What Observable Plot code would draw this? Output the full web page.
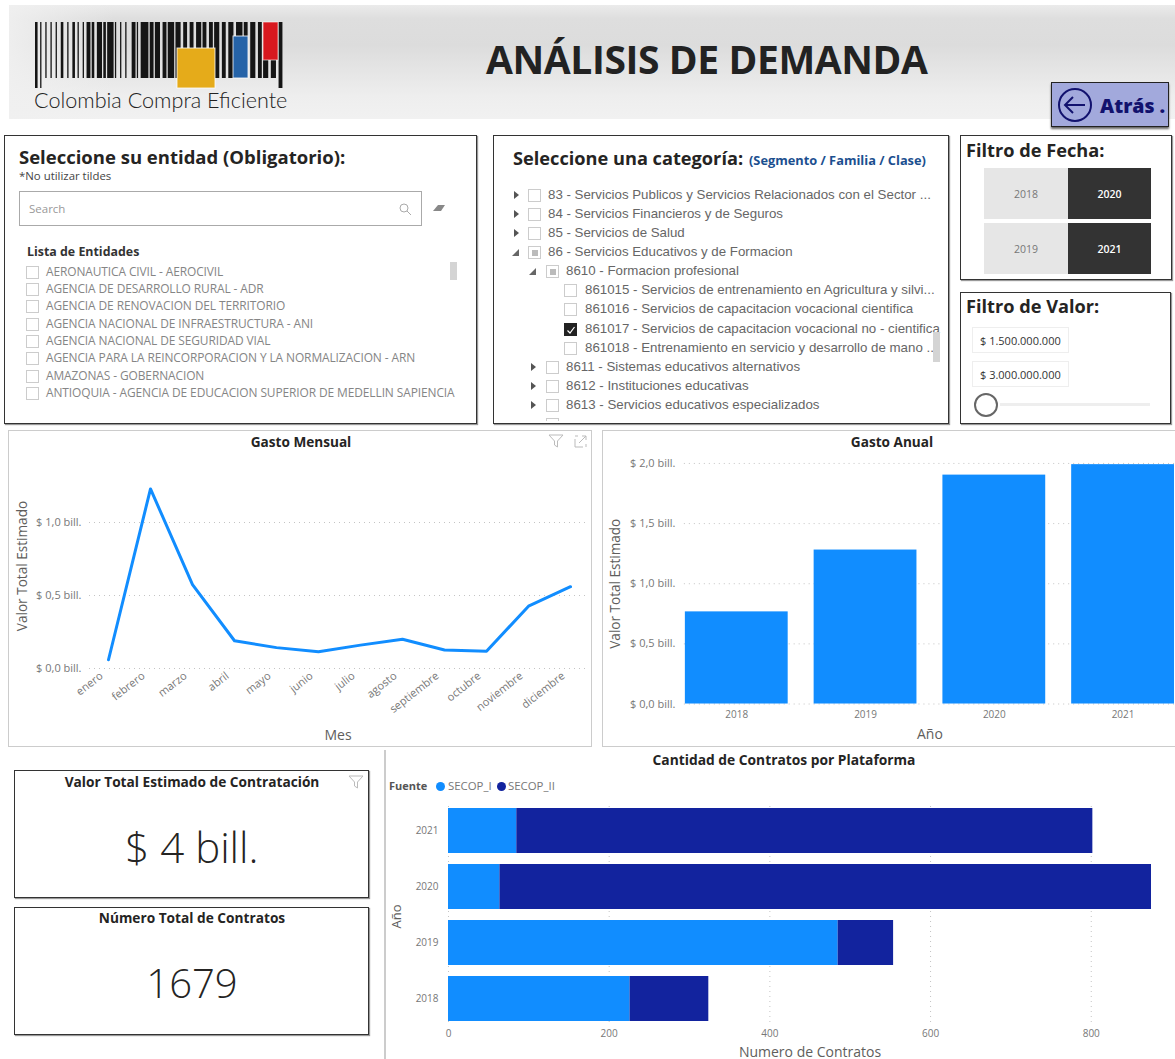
<!DOCTYPE html>
<html lang="es">
<head>
<meta charset="utf-8">
<script src="https://cdn.jsdelivr.net/npm/d3@7"></script>
<script src="https://cdn.jsdelivr.net/npm/@observablehq/plot@0.6"></script>
<style>
html,body{margin:0;padding:0;background:#fff;width:1175px;height:1059px;overflow:hidden;font-family:"Open Sans",sans-serif;color:#252423}
.a{position:absolute;box-sizing:border-box}
.t{position:absolute;white-space:nowrap;line-height:1}
.panel{position:absolute;box-sizing:border-box;background:#fff;border:1.5px solid #333;box-shadow:1px 1px 1px #999;overflow:hidden}
.frame{position:absolute;box-sizing:border-box;border:1.5px solid #ccc;background:#fff}
.cb{position:absolute;box-sizing:border-box;width:13px;height:13px;border:1px solid #ccc;background:#fff}
.row{position:absolute;white-space:nowrap;line-height:1;font-family:"Liberation Sans",Arial,sans-serif;font-size:13.3px;color:#666}
.ent{position:absolute;white-space:nowrap;line-height:1;font-size:11.95px;color:#858585;letter-spacing:-.1px}
.arrow{position:absolute;width:0;height:0}
.arrow.closed{border-left:5px solid #555;border-top:4px solid transparent;border-bottom:4px solid transparent}
.arrow.open{border-left:7px solid transparent;border-bottom:7px solid #666}
svg{overflow:visible}
.plot{position:absolute}
.btn{position:absolute;display:flex;align-items:center;justify-content:center;font-size:10.5px}
.val{position:absolute;box-sizing:border-box;border:1px solid #eee;font-size:11px;color:#333;display:flex;align-items:center;padding-left:7px}
</style>
</head>
<body>
<div id="root"></div>
<script>
// ---- datos ----
const meses = ["enero","febrero","marzo","abril","mayo","junio","julio","agosto","septiembre","octubre","noviembre","diciembre"];
const gastoMensual = [0.06,1.23,0.575,0.19,0.143,0.114,0.16,0.2,0.127,0.118,0.427,0.56];
const ticksMensual = [0,0.5,1];

const anios = ["2018","2019","2020","2021"];
const gastoAnual = [0.766,1.28,1.903,1.99];
const ticksAnual = [0,0.5,1,1.5,2];

const fuentes = ["SECOP_I","SECOP_II"];
const contratosSecopI = [226,485,64,85];
const contratosSecopII = [98,69,811,717];
const ticksContratos = [0,200,400,600,800];

const entidades = ["AERONAUTICA CIVIL - AEROCIVIL","AGENCIA DE DESARROLLO RURAL - ADR","AGENCIA DE RENOVACION DEL TERRITORIO","AGENCIA NACIONAL DE INFRAESTRUCTURA - ANI","AGENCIA NACIONAL DE SEGURIDAD VIAL","AGENCIA PARA LA REINCORPORACION Y LA NORMALIZACION - ARN","AMAZONAS - GOBERNACION","ANTIOQUIA - AGENCIA DE EDUCACION SUPERIOR DE MEDELLIN SAPIENCIA"];
const arbol = [
 ["83 - Servicios Publicos y Servicios Relacionados con el Sector ...",0,"closed",""],
 ["84 - Servicios Financieros y de Seguros",0,"closed",""],
 ["85 - Servicios de Salud",0,"closed",""],
 ["86 - Servicios Educativos y de Formacion",0,"open","partial"],
 ["8610 - Formacion profesional",1,"open","partial"],
 ["861015 - Servicios de entrenamiento en Agricultura y silvi...",2,"",""],
 ["861016 - Servicios de capacitacion vocacional cientifica",2,"",""],
 ["861017 - Servicios de capacitacion vocacional no - cientifica",2,"","checked"],
 ["861018 - Entrenamiento en servicio y desarrollo de mano ...",2,"",""],
 ["8611 - Sistemas educativos alternativos",1,"closed",""],
 ["8612 - Instituciones educativas",1,"closed",""],
 ["8613 - Servicios educativos especializados",1,"closed",""]
];
const filasArbol = [195,214,233,252,271,290,309,329,348,367,386,405];
const filasEntidades = [272,289,306,324,341,358,376,393];
// anchos alternos barra / hueco del código de barras del logotipo
const patronBarras = "2 2 1 3 1 3 1 3 1 3 2 3 1 3 2 2 1 3 1 2 3 1 2 2 4 1 2 1 5 1 1 3 1 3 1 4 3 1 1 2 6 1 3 1 4 2 3 1 5 1 4 2 3 2 3 2 4 1 3 2 3 1 4 2 3 2 4 2 5 1 3 2 4 2 3 1 4 2 4 2 3 2";
const barrasLargas = [0,2,35,37,80];

// ---- estilos comunes ----
const AZUL = "#118DFF", NAVY = "#12239E", GRIS = "#777", TITULO = "#605E5C";
const FONT = "'Open Sans',sans-serif";
const bill = d => "$ " + d.toFixed(1).replace(".",",") + " bill.";
const root = document.getElementById("root");
function el(html){const d=document.createElement("div");d.innerHTML=html;const n=d.firstElementChild;root.appendChild(n);return n;}
function txt(x,y,s,style){return el(`<div class="t" style="left:${x}px;top:${y}px;${style||""}">${s}</div>`);}
function place(node,left,top){const w=document.createElement("div");w.className="plot";w.style.left=left+"px";w.style.top=top+"px";w.appendChild(node);root.appendChild(w);}

// ---- encabezado ----
el(`<div class="a" style="left:9px;top:5px;width:1166px;height:114px;background:linear-gradient(90deg,rgba(240,240,240,.9) 0,rgba(240,240,240,0) 9%),linear-gradient(180deg,#ebebeb 0,#dedede 12%,#dcdcdc 35%,#eeeeee 80%,#f1f1f1 100%)"></div>`);
(function(){
  const anchos = patronBarras.split(" ").map(Number);
  const total = d3.sum(anchos), f = 250/total;
  let x=35, s='<svg class="a" style="left:0;top:0" width="300" height="120">';
  anchos.forEach((w,k)=>{
    if(k%2===0){ const bottom = barrasLargas.includes(k)?88:78; s+=`<rect x="${x.toFixed(2)}" y="22" width="${(w*f).toFixed(2)}" height="${bottom-22}" fill="#151515"/>`; }
    x+=w*f;
  });
  s+=`<rect x="177" y="48" width="38" height="40" fill="#E5AB1A" stroke="#fff" stroke-opacity=".8"/><rect x="233" y="36" width="15" height="42" fill="#2563A8" stroke="#fff" stroke-opacity=".8"/><rect x="263" y="22" width="15" height="38" fill="#D8181F" stroke="#fff" stroke-opacity=".6"/></svg>`;
  el(s);
})();
txt(34,90,"Colombia Compra Eficiente","font-size:21.6px;font-family:Lato,sans-serif;font-weight:300;color:#222;");
txt(486,39,"ANÁLISIS DE DEMANDA","font-size:39px;font-weight:700;color:#222;letter-spacing:-.4px");
el(`<div class="a" style="left:1051px;top:82px;width:118px;height:45px;background:#A2A9DC;border:1.5px solid #222;box-shadow:0 2px 2px #666;overflow:hidden">
<svg class="a" style="left:5px;top:4px" width="36" height="36"><circle cx="18" cy="18" r="16" fill="none" stroke="#12126e" stroke-width="2"/><path d="M28 18H9M16 10l-8 8 8 8" fill="none" stroke="#12126e" stroke-width="2"/></svg>
<div class="t" style="left:48px;top:13px;font-size:19.5px;font-weight:800;color:#12126e;">Atrás .</div></div>`);

// ---- panel entidad ----
el(`<div class="panel" style="left:4px;top:135px;width:473px;height:289px"></div>`);
txt(19,148,"Seleccione su entidad (Obligatorio):","font-size:18.5px;font-weight:700;");
txt(19,170,"*No utilizar tildes","font-size:11.4px;color:#444");
el(`<div class="a" style="left:19px;top:191px;width:403px;height:35px;border:1.5px solid #aaa"></div>`);
txt(29,203,"Search","font-size:11.5px;color:#999");
el(`<svg class="a" style="left:398px;top:202px" width="14" height="14"><circle cx="6" cy="6" r="4" fill="none" stroke="#aaa"/><path d="M9 9l4 4" stroke="#aaa"/></svg>`);
el(`<svg class="a" style="left:432px;top:202px" width="14" height="12"><path d="M1 9L6 3h7L9 9z" fill="#888"/></svg>`);
txt(27,246,"Lista de Entidades","font-size:12.4px;font-weight:700;color:#333");
entidades.forEach((e,i)=>{
  const y=filasEntidades[i];
  el(`<div class="cb" style="left:26px;top:${y-6}px"></div>`);
  el(`<div class="ent" style="left:46px;top:${y-6}px">${e}</div>`);
});
el(`<div class="a" style="left:450px;top:262px;width:7px;height:18px;background:#d4d4d4"></div>`);

// ---- panel categoría ----
el(`<div class="panel" style="left:493px;top:135px;width:456px;height:289px"></div>`);
txt(513,149,"Seleccione una categoría:","font-size:18.2px;font-weight:700;");
txt(749,154,"(Segmento / Familia / Clase)","font-size:12.8px;font-weight:700;color:#1B4F8F");
const clip = el(`<div class="a" style="left:494px;top:136px;width:454px;height:285.5px;overflow:hidden"></div>`);
arbol.forEach((r,i)=>{
  const [t,lvl,arrow,state]=r, y=filasArbol[i]-136;
  const cbx=[34,52,70][lvl], tx=[54,72,91][lvl], ax=[20,37,0][lvl];
  let h="";
  if(arrow==="closed") h+=`<div class="arrow closed" style="left:${ax}px;top:${y-4}px"></div>`;
  if(arrow==="open") h+=`<div class="arrow open" style="left:${ax-2}px;top:${y-3}px"></div>`;
  const bg = state==="checked"?"background:#222;border-color:#222;":"";
  h+=`<div class="cb" style="left:${cbx}px;top:${y-6}px;${bg}">`;
  if(state==="partial") h+=`<div class="a" style="left:2.5px;top:2.5px;width:6px;height:6px;background:#bbb"></div>`;
  if(state==="checked") h+=`<svg class="a" style="left:1px;top:1px" width="10" height="10"><path d="M1.5 5.5l2.5 2.5 4.5-6" fill="none" stroke="#fff" stroke-width="1.2"/></svg>`;
  h+=`</div><div class="row" style="left:${tx}px;top:${y-7}px">${t}</div>`;
  const holder=document.createElement("div");holder.innerHTML=h;while(holder.firstChild)clip.appendChild(holder.firstChild);
});
el(`<div class="a" style="left:933px;top:332px;width:7px;height:30px;background:#d4d4d4"></div>`);
el(`<div class="a" style="left:546px;top:418px;width:13px;height:3px;border:1px solid #ccc;border-bottom:0"></div>`);

// ---- filtros ----
el(`<div class="panel" style="left:960px;top:135px;width:212px;height:145px"></div>`);
txt(966,141,"Filtro de Fecha:","font-size:18.2px;font-weight:700;");
[["2018",984,168,84,51,0],["2020",1068,168,83,51,1],["2019",984,223,84,51,0],["2021",1068,223,83,51,1]].forEach(([s,x,y,w,h,on])=>{
  el(`<div class="btn" style="left:${x}px;top:${y}px;width:${w}px;height:${h}px;background:${on?"#333":"#E6E6E6"};color:${on?"#fff":"#777"};${on?"font-weight:600":""}">${s}</div>`);
});
el(`<div class="panel" style="left:960px;top:292px;width:211px;height:132px"></div>`);
txt(966,297,"Filtro de Valor:","font-size:18.2px;font-weight:700;");
el(`<div class="val" style="left:972px;top:327px;width:97px;height:26px">$ 1.500.000.000</div>`);
el(`<div class="val" style="left:972px;top:361px;width:97px;height:26px">$ 3.000.000.000</div>`);
el(`<div class="a" style="left:1000px;top:403px;width:150px;height:3px;background:#eee"></div>`);
el(`<div class="a" style="left:974px;top:393px;width:24px;height:24px;border:2px solid #666;border-radius:50%;background:#fff"></div>`);

// ---- marcos ----
el(`<div class="frame" style="left:8px;top:430px;width:584px;height:317px"></div>`);
el(`<div class="frame" style="left:602px;top:430px;width:590px;height:317px"></div>`);
txt(0,435,"Gasto Mensual","width:602px;text-align:center;font-size:13.6px;font-weight:700");
txt(603,435,"Gasto Anual","width:578px;text-align:center;font-size:13.6px;font-weight:700");
const iconF = (x,y)=>`<svg class="a" style="left:${x}px;top:${y}px" width="16" height="14"><path d="M1 1h14L9.5 7v6L6.5 11V7z" fill="none" stroke="#bbb"/></svg>`;
el(iconF(548,434));
el(`<svg class="a" style="left:574px;top:435px" width="13" height="13"><path d="M1 4v8h8M5 8l7-7M8 1h4v4M1 1h3M12 9v3" fill="none" stroke="#bbb"/></svg>`);

// ---- Gasto Mensual ----
const datosMensual = meses.map((m,i)=>({mes:m,valor:gastoMensual[i]}));
place(Plot.plot({
  width:580,height:315,marginLeft:79,marginRight:4,marginTop:32,marginBottom:78,
  style:{background:"transparent",fontFamily:FONT,fontSize:"10px",overflow:"visible"},
  x:{type:"point",domain:meses,range:[96,561],padding:0,label:null},
  y:{domain:[0,1.404],label:null},
  marks:[
    Plot.ruleY(ticksMensual,{stroke:"#c4c4c4",strokeDasharray:"1,4"}),
    Plot.axisY({ticks:ticksMensual,tickSize:0,tickPadding:8,tickFormat:bill,label:null,color:GRIS,fontSize:11}),
    Plot.axisX({tickSize:0,tickRotate:-38,tickPadding:6,label:null,color:GRIS,dx:-7,fontSize:11}),
    Plot.lineY(datosMensual,{x:"mes",y:"valor",stroke:AZUL,strokeWidth:3,curve:"linear"}),
    Plot.text(["Valor Total Estimado"],{text:d=>d,frameAnchor:"left",rotate:-90,textAnchor:"middle",lineAnchor:"middle",dx:-67,fontSize:13.6,fill:TITULO}),
    Plot.text(["Mes"],{text:d=>d,frameAnchor:"bottom",lineAnchor:"middle",dy:67,fontSize:14,fill:TITULO})
  ]
}),10,431);

// ---- Gasto Anual ----
const datosAnual = anios.map((a,i)=>({anio:a,valor:gastoAnual[i]}));
place(Plot.plot({
  width:573,height:315,marginLeft:81,marginRight:0,marginTop:32,marginBottom:42,
  style:{background:"transparent",fontFamily:FONT,fontSize:"10px",overflow:"visible"},
  x:{type:"band",domain:anios,paddingInner:0.2,paddingOuter:0,label:null},
  y:{domain:[0,2],label:null},
  marks:[
    Plot.ruleY(ticksAnual,{stroke:"#c4c4c4",strokeDasharray:"1,4"}),
    Plot.barY(datosAnual,{x:"anio",y:"valor",fill:AZUL}),
    Plot.axisY({ticks:ticksAnual,tickSize:0,tickPadding:9,tickFormat:bill,label:null,color:GRIS,fontSize:11}),
    Plot.axisX({tickSize:0,tickPadding:7,label:null,color:GRIS}),
    Plot.text(["Valor Total Estimado"],{text:d=>d,frameAnchor:"left",rotate:-90,textAnchor:"middle",lineAnchor:"middle",dx:-69,fontSize:13.6,fill:TITULO}),
    Plot.text(["Año"],{text:d=>d,frameAnchor:"bottom",lineAnchor:"middle",dy:31,fontSize:14,fill:TITULO})
  ]
}),603,431);

// ---- tarjetas ----
el(`<div class="panel" style="left:14px;top:770px;width:355px;height:128px"></div>`);
txt(14,775,"Valor Total Estimado de Contratación","width:356px;text-align:center;font-size:13.7px;font-weight:700");
txt(14,826,"$ 4 bill.","width:356px;text-align:center;font-size:42px;font-weight:300;color:#252423");
el(iconF(348,775));
el(`<div class="panel" style="left:14px;top:907px;width:355px;height:128px"></div>`);
txt(14,911,"Número Total de Contratos","width:356px;text-align:center;font-size:13.7px;font-weight:700");
txt(14,963,"1679","width:356px;text-align:center;font-size:40px;font-weight:300;color:#252423");

// ---- Contratos por plataforma ----
el(`<div class="a" style="left:384px;top:750px;width:1.5px;height:309px;background:#ccc"></div>`);
txt(384,753,"Cantidad de Contratos por Plataforma","width:800px;text-align:center;font-size:13.8px;font-weight:700");
txt(389,780,"Fuente","font-size:11px;font-weight:700;color:#555");
el(`<div class="a" style="left:436px;top:782px;width:9px;height:9px;border-radius:50%;background:${AZUL}"></div>`);
txt(448,780,fuentes[0],"font-size:11.4px;color:#777");
el(`<div class="a" style="left:497px;top:782px;width:9px;height:9px;border-radius:50%;background:${NAVY}"></div>`);
txt(508,780,fuentes[1],"font-size:11.4px;color:#777");
const datosContratos = anios.flatMap((a,i)=>[
  {anio:a,fuente:fuentes[0],n:contratosSecopI[i]},
  {anio:a,fuente:fuentes[1],n:contratosSecopII[i]}
]);
place(Plot.plot({
  width:791,height:269,marginLeft:64,marginRight:24,marginTop:16,marginBottom:37,
  style:{background:"transparent",fontFamily:FONT,fontSize:"10px",overflow:"visible"},
  x:{domain:[0,875],label:null},
  y:{type:"band",domain:[...anios].reverse(),paddingInner:0.2,paddingOuter:0,label:null},
  color:{domain:fuentes,range:[AZUL,NAVY]},
  marks:[
    Plot.ruleX(ticksContratos,{stroke:"#c4c4c4",strokeDasharray:"1,4"}),
    Plot.barX(datosContratos,Plot.stackX({x:"n",y:"anio",fill:"fuente",order:fuentes})),
    Plot.axisX({ticks:ticksContratos,tickSize:0,tickPadding:7,label:null,color:GRIS}),
    Plot.axisY({tickSize:0,tickPadding:10,label:null,color:GRIS}),
    Plot.text(["Año"],{text:d=>d,frameAnchor:"left",rotate:-90,textAnchor:"middle",lineAnchor:"middle",dx:-52,dy:2,fontSize:13,fill:TITULO}),
    Plot.text(["Numero de Contratos"],{text:d=>d,frameAnchor:"bottom",lineAnchor:"middle",dy:30,dx:10,fontSize:14,fill:TITULO})
  ]
}),384,790);
</script>
</body>
</html>
